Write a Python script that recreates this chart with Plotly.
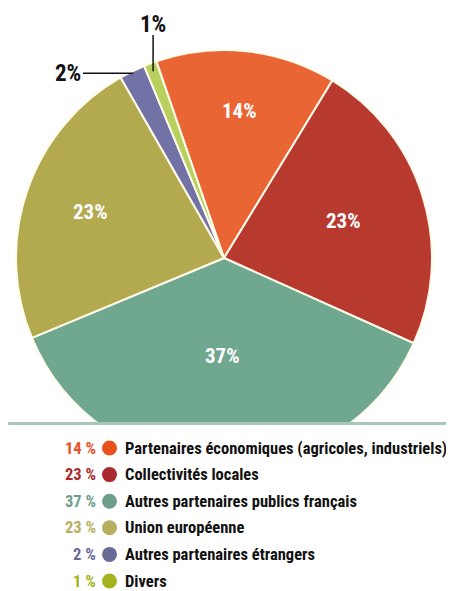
import numpy as np
import plotly.graph_objects as go

categories = [
    "Partenaires économiques (agricoles, industriels)",
    "Collectivités locales",
    "Autres partenaires publics français",
    "Union européenne",
    "Autres partenaires étrangers",
    "Divers",
]
values = [14, 23, 37, 23, 2, 1]
slice_colors = ["#EA6534", "#B83A2F", "#6FA78F", "#B3A94F", "#7272A6", "#B8CF5E"]
legend_colors = ["#E8501E", "#A82A2E", "#6E9E8A", "#B8AE60", "#6A6A96", "#A4B420"]

# page pixel frame (the page body adds an 8px margin)
OFF = 8
W, H = 454 - OFF, 591 - OFF
CX, CY, R = 224, 258, 208
CLIP_Y = 422
START = -19  # degrees clockwise from 12 o'clock
FONT = "Roboto Condensed, Open Sans Condensed, sans-serif"

fig = go.Figure()

fig.add_trace(go.Pie(
    values=values,
    labels=categories,
    sort=False,
    direction="clockwise",
    rotation=START,
    marker=dict(colors=slice_colors, line=dict(color="#FFFCEB", width=2)),
    textinfo="none",
    hoverinfo="label+percent",
    showlegend=False,
    domain=dict(x=[(CX - R - OFF) / W, (CX + R - OFF) / W],
                y=[(H + OFF - CY - R) / H, (H + OFF - CY + R) / H]),
))

# slice label positions derived from the data
vals = np.array(values, dtype=float)
cum = np.concatenate([[0], np.cumsum(vals)]) / vals.sum() * 360 + START
mids = (cum[:-1] + cum[1:]) / 2

def polar(angle_deg, frac):
    a = np.radians(angle_deg)
    return CX + frac * R * np.sin(a), CY - frac * R * np.cos(a)

inside_r = [0.71, 0.60, 0.47, 0.68]
annotations = []
for i in range(4):
    x, y = polar(mids[i], inside_r[i])
    annotations.append(dict(x=x, y=y, xref="x", yref="y", text=f"<b>{values[i]}%</b>",
                            showarrow=False, font=dict(family=FONT, size=21, color="white")))

shapes = []
# 2% label with horizontal leader
tx, ty = polar(mids[4], 0.99)
annotations.append(dict(x=83, y=ty, xref="x", yref="y", xanchor="right", text=f"<b>{values[4]}%</b>",
                        showarrow=False, font=dict(family=FONT, size=23, color="#111111")))
shapes.append(dict(type="line", xref="x", yref="y", x0=83, y0=ty, x1=tx, y1=ty,
                   line=dict(color="#111111", width=1.5)))
# 1% label with vertical leader
tx, ty = polar(mids[5], 0.96)
annotations.append(dict(x=tx, y=40, xref="x", yref="y", yanchor="bottom", text=f"<b>{values[5]}%</b>",
                        showarrow=False, font=dict(family=FONT, size=23, color="#111111")))
shapes.append(dict(type="line", xref="x", yref="y", x0=tx, y0=35, x1=tx, y1=ty,
                   line=dict(color="#111111", width=1.5)))

# clip the bottom of the pie and draw separator line
shapes.append(dict(type="rect", xref="x", yref="y", x0=0, x1=W + OFF, y0=CLIP_Y, y1=H + OFF,
                   fillcolor="white", line=dict(width=0), layer="above"))
shapes.append(dict(type="line", xref="x", yref="y", x0=0, x1=W + OFF, y0=CLIP_Y + 1.5, y1=CLIP_Y + 1.5,
                   line=dict(color="#A8C7B9", width=3), layer="above"))

# legend
row_y = [448 + 26.6 * i for i in range(len(categories))]
for i, cat in enumerate(categories):
    shapes.append(dict(type="circle", xref="x", yref="y", x0=102, x1=117,
                       y0=row_y[i] - 7.5, y1=row_y[i] + 7.5,
                       fillcolor=legend_colors[i], line=dict(width=0), layer="above"))
    annotations.append(dict(x=97, y=row_y[i], xref="x", yref="y", xanchor="right",
                            text=f"<b>{values[i]} %</b>", showarrow=False, borderpad=0,
                            font=dict(family=FONT, size=16.5, color=legend_colors[i])))
    annotations.append(dict(x=124, y=row_y[i], xref="x", yref="y", xanchor="left",
                            text=f"<b>{cat}</b>", showarrow=False, borderpad=0,
                            font=dict(family=FONT, size=16.5, color="#111111")))

fig.update_layout(
    width=W, height=H,
    margin=dict(l=0, r=0, t=0, b=0),
    paper_bgcolor="white", plot_bgcolor="rgba(0,0,0,0)",
    xaxis=dict(range=[OFF, OFF + W], visible=False, fixedrange=True, domain=[0, 1]),
    yaxis=dict(range=[OFF + H, OFF], visible=False, fixedrange=True, domain=[0, 1]),
    annotations=annotations,
    shapes=shapes,
    font=dict(family=FONT),
)

fig.write_html("out.html")
